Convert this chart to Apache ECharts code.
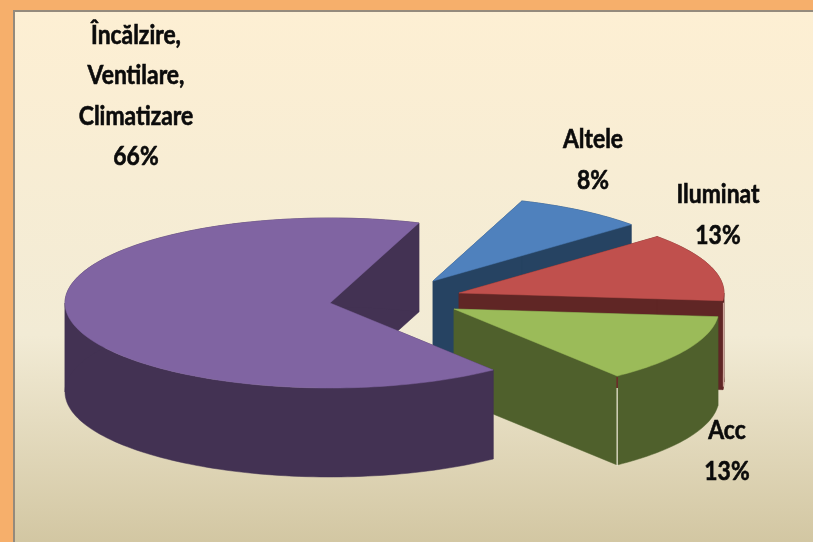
<!DOCTYPE html>
<html>
<head>
<meta charset="utf-8">
<style>html,body{margin:0;padding:0;background:#F6AF6B}#c{width:813px;height:542px}</style>
<script src="https://cdn.jsdelivr.net/npm/echarts@6/dist/echarts.min.js"></script>
</head>
<body>
<div id="c"></div>
<script>
const categories = ['Altele', 'Iluminat', 'Acc', 'Încălzire,\nVentilare,\nClimatizare'];
const values = [8, 13, 13, 66];

const topColors = ['#4F81BD', '#C0504D', '#9BBB59', '#8064A2'];
const wallColors = ['#264362', '#602625', '#4F602C', '#433253'];
const apexes = [[433, 281], [459, 293], [454, 309], [330, 303]];
const labelPos = [[593, 160], [718, 215], [727, 451], [136, 96]];

const RX = 265, RY = 85, DEPTH = 89, START_ANGLE = 70.4;
const total = values.reduce((a, b) => a + b, 0);

function angleBefore(i) {
  let s = 0;
  for (let k = 0; k < i; k++) s += values[k];
  return START_ANGLE - s / total * 360;
}
function pt(a, deg) {
  const r = deg * Math.PI / 180;
  return [a[0] + RX * Math.cos(r), a[1] - RY * Math.sin(r)];
}
function down(p) { return [p[0], p[1] + DEPTH]; }
function poly(points, fill) {
  return { type: 'polygon', shape: { points }, style: { fill, stroke: fill, lineWidth: 0.5 } };
}
function line(x, y1, y2, stroke, w) {
  return { type: 'line', shape: { x1: x, y1, x2: x, y2 }, style: { stroke, lineWidth: w } };
}
// Angles running clockwise from a0 to a1, cut at the ellipse's left and right ends,
// so each run moves one way along x and its extruded band is a simple polygon.
function monotonicRuns(a0, a1) {
  const cuts = [a0];
  for (let c = Math.floor(a0 / 180) * 180; c > a1; c -= 180) {
    if (c < a0) cuts.push(c);
  }
  cuts.push(a1);
  return cuts;
}
function arcPoints(apex, a0, a1) {
  const steps = Math.max(1, Math.ceil((a0 - a1) / 1.5));
  const arc = [];
  for (let s = 0; s <= steps; s++) arc.push(pt(apex, a0 + (a1 - a0) * s / steps));
  return arc;
}

function renderItem(params, api) {
  const i = params.dataIndex;
  const value = api.value(0);
  const a0 = angleBefore(i);
  const a1 = a0 - value / total * 360;
  const apex = apexes[i];
  const arc = arcPoints(apex, a0, a1);
  const first = arc[0], last = arc[arc.length - 1];
  const children = [
    poly([apex, first, down(first), down(apex)], wallColors[i]),
    poly([apex, last, down(last), down(apex)], wallColors[i])
  ];
  const cuts = monotonicRuns(a0, a1);
  for (let c = 0; c < cuts.length - 1; c++) {
    const run = arcPoints(apex, cuts[c], cuts[c + 1]);
    children.push(poly(run.concat(run.map(down).reverse()), wallColors[i]));
  }
  children.push(poly([apex].concat(arc), topColors[i]));
  if (i === 1) {
    children.push(line(last[0] + 0.5, last[1] + 2, last[1] + DEPTH - 3, '#D9B3A8', 1));
  }
  if (i === 2) {
    children.push(line(last[0], last[1] + 1, last[1] + 12, '#6E2A2A', 1.5));
    children.push(line(last[0], last[1] + 12, last[1] + DEPTH + 1, '#F2EEDC', 1.2));
  }
  children.push({
    type: 'text',
    x: labelPos[i][0], y: labelPos[i][1],
    scaleX: 0.88, scaleY: 1,
    style: {
      text: categories[i] + '\n' + value + '%',
      x: 0, y: 0,
      align: 'center', verticalAlign: 'middle',
      font: 'bold 26px Lato, "Liberation Sans", sans-serif',
      lineHeight: 40.5, fill: '#0B0B0B',
      stroke: '#0B0B0B', lineWidth: 0.6
    }
  });
  return { type: 'group', children };
}

const chart = echarts.init(document.getElementById('c'), null, { renderer: 'canvas' });
chart.setOption({
  animation: false,
  backgroundColor: '#F6AF6B',
  graphic: [{
    type: 'rect', z: -10, silent: true,
    shape: { x: 14, y: 11, width: 810, height: 540 },
    style: {
      stroke: '#948A7C', lineWidth: 2,
      fill: {
        type: 'linear', x: 0, y: 0, x2: 0, y2: 1,
        colorStops: [
          { offset: 0, color: '#FDEFD3' },
          { offset: 0.6, color: '#F2EBD5' },
          { offset: 1, color: '#D1C5A0' }
        ]
      }
    }
  }],
  series: [{
    type: 'custom',
    coordinateSystem: 'none',
    renderItem,
    data: values.map(v => [v]),
    encode: { value: 0 }
  }]
});
</script>
</body>
</html>
